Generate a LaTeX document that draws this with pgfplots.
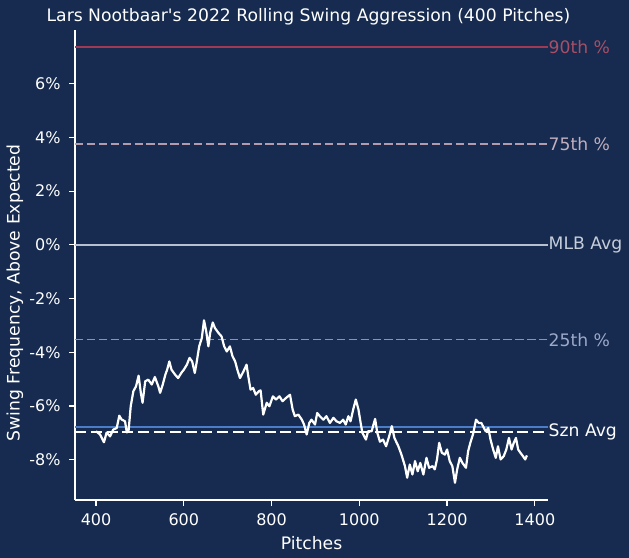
\documentclass[border=0pt]{standalone}
\usepackage{pgfplots}
\pgfplotsset{compat=1.18}
\usepackage{fontspec}
\setmainfont{DejaVu Sans}
\definecolor{bg}{HTML}{162B4F}
\definecolor{p90}{HTML}{9E3A55}
\definecolor{p75}{HTML}{B39AAD}
\definecolor{mlb}{HTML}{B8C0D0}
\definecolor{p25}{HTML}{8494BC}
\definecolor{szb}{HTML}{4A7CC8}
\begin{document}
\begin{tikzpicture}[font=\fontsize{17.2bp}{20bp}\selectfont]
\fill[bg] (0,0) rectangle (629bp,558bp);
\useasboundingbox (0,0) rectangle (629bp,558bp);
\begin{axis}[
  at={(75bp,58bp)}, anchor=south west,
  scale only axis, width=473bp, height=470bp,
  xmin=352, xmax=1430, ymin=-9.5, ymax=8,
  axis lines*=left,
  axis line style={-, white, line width=1.2bp},
  tick style={white, line width=1.2bp},
  major tick length=6bp, tick align=outside,
  xtick={400,600,...,1400},
  ytick={-8,-6,-4,-2,0,2,4,6},
  yticklabels={-8\%,-6\%,-4\%,-2\%,0\%,2\%,4\%,6\%},
  ticklabel style={white, font=\fontsize{16bp}{19bp}\selectfont},
  yticklabel style={xshift=-5bp},
  xticklabel style={yshift=-4bp},
  /pgf/number format/assume math mode=true,
  /pgf/number format/set thousands separator={},
  clip=false,
]
\addplot[p90, line width=1.5bp] coordinates {(352,7.36) (1430,7.36)};
\addplot[p75, line width=1.5bp, dash pattern=on 8.3bp off 3.6bp] coordinates {(352,3.75) (1430,3.75)};
\addplot[mlb, line width=1.5bp] coordinates {(352,0) (1430,0)};
\addplot[p25, line width=1.5bp, dash pattern=on 8.3bp off 3.6bp] coordinates {(352,-3.53) (1430,-3.53)};
\addplot[szb, line width=2bp] coordinates {(352,-6.77) (1430,-6.77)};
\addplot[white, line width=2bp, dash pattern=on 11bp off 4.8bp] coordinates {(352,-6.95) (1430,-6.95)};
\addplot[white, line width=2.2bp, line join=round] coordinates {
(400,-6.94) (409,-7.06) (418,-7.35) (424,-6.99) (432,-7.13) (439,-6.88) (447,-6.82) (453,-6.36) (458,-6.5) (466,-6.57) (470,-6.98) (474,-6.94) (479,-6.01) (485,-5.45) (491,-5.27) (497,-4.87) (502,-5.51) (506,-5.88) (512,-5.08) (519,-5.02) (527,-5.2) (534,-4.92) (542,-5.27) (546,-5.51) (552,-5.2) (558,-4.83) (562,-4.65) (567,-4.34) (572,-4.65) (580,-4.83) (587,-4.96) (595,-4.75) (600,-4.65) (607,-4.46) (613,-4.21) (619,-4.34) (625,-4.77) (629,-4.4) (635,-3.78) (641,-3.47) (646,-2.81) (651,-3.22) (656,-3.78) (660,-3.28) (666,-2.89) (671,-3.1) (679,-3.28) (686,-3.41) (692,-3.78) (698,-3.97) (705,-3.78) (711,-4.15) (717,-4.34) (722,-4.65) (728,-4.96) (736,-4.71) (743,-4.46) (747,-4.9) (752,-5.39) (758,-5.33) (764,-5.58) (771,-5.45) (775,-5.42) (781,-6.32) (789,-5.88) (795,-6.01) (803,-5.64) (810,-5.76) (818,-5.64) (825,-5.82) (833,-5.7) (842,-5.58) (848,-6.13) (853,-6.38) (861,-6.32) (869,-6.51) (874,-6.69) (880,-7.06) (886,-6.63) (891,-6.51) (899,-6.69) (904,-6.26) (910,-6.38) (918,-6.51) (925,-6.38) (933,-6.63) (941,-6.44) (948,-6.57) (956,-6.63) (963,-6.51) (969,-6.69) (975,-6.38) (980,-6.57) (986,-6.13) (992,-5.76) (998,-6.13) (1003,-6.63) (1007,-7.0) (1015,-7.25) (1020,-6.94) (1028,-6.94) (1036,-6.48) (1041,-7.0) (1047,-7.33) (1054,-7.25) (1061,-7.5) (1068,-7.13) (1074,-6.75) (1080,-7.19) (1089,-7.5) (1096,-7.81) (1104,-8.24) (1109,-8.67) (1115,-8.18) (1121,-8.55) (1127,-8.05) (1133,-8.43) (1139,-8.12) (1146,-8.55) (1153,-7.93) (1159,-8.3) (1167,-8.24) (1172,-8.36) (1177,-7.99) (1182,-7.37) (1188,-7.74) (1195,-7.81) (1200,-7.62) (1206,-8.05) (1212,-8.24) (1218,-8.86) (1223,-8.36) (1229,-7.93) (1235,-8.12) (1243,-8.3) (1248,-7.68) (1253,-7.37) (1259,-7.06) (1266,-6.51) (1272,-6.63) (1278,-6.63) (1284,-6.82) (1288,-6.94) (1294,-6.82) (1299,-7.25) (1305,-7.62) (1311,-7.93) (1316,-7.5) (1322,-7.99) (1329,-7.87) (1335,-7.62) (1341,-7.19) (1347,-7.62) (1352,-7.37) (1357,-7.19) (1362,-7.62) (1367,-7.74) (1373,-7.87) (1378,-7.99) (1382,-7.84)
};
\node[anchor=west, inner xsep=0.5bp, text=p90!90!white] at (axis cs:1430,7.36) {90th \%};
\node[anchor=west, inner xsep=0.5bp, text=p75!80!white] at (axis cs:1430,3.75) {75th \%};
\node[anchor=west, inner xsep=0.5bp, text=mlb!80!white] at (axis cs:1430,0) {MLB Avg};
\node[anchor=west, inner xsep=0.5bp, text=p25!80!white] at (axis cs:1430,-3.53) {25th \%};
\node[anchor=west, inner xsep=0.5bp, text=white] at (axis cs:1430,-6.95) {Szn Avg};
\end{axis}
\node[white] at (308.5bp,541bp) {Lars Nootbaar\textquotesingle s 2022 Rolling Swing Aggression (400 Pitches)};
\node[white] at (311.5bp,15bp) {Pitches};
\node[white, rotate=90] at (15bp,265bp) {Swing Frequency, Above Expected};
\end{tikzpicture}
\end{document}
